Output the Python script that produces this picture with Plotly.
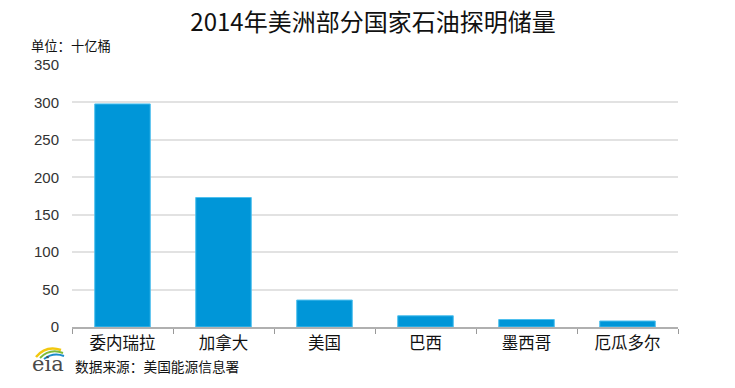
import plotly.graph_objects as go

countries = ["委内瑞拉", "加拿大", "美国", "巴西", "墨西哥", "厄瓜多尔"]
reserves = [298, 173, 36, 15, 10, 8]
y_ticks = [0, 50, 100, 150, 200, 250, 300, 350]

FONT = "Noto Sans CJK SC, Noto Sans, sans-serif"
L, R, T, B = 72, 57, 65, 61
PW, PH = 735 - L - R, 388 - T - B


def px(x):
    return (x - L) / PW


def py(y):
    return (388 - B - y) / PH


fig = go.Figure(go.Bar(
    x=countries, y=reserves,
    marker=dict(color="#0096D8", line=dict(color="#4FC0EE", width=1)),
    width=0.55,
))

fig.update_layout(
    width=735, height=388,
    margin=dict(l=L, r=R, t=T, b=B),
    paper_bgcolor="white", plot_bgcolor="white",
    showlegend=False,
    font=dict(family=FONT, color="#222"),
    title=dict(text="2014年美洲部分国家石油探明储量", x=(373) / 735, xanchor="center",
               y=1 - 23 / 388, yanchor="middle", font=dict(size=24, color="#111", family=FONT)),
    xaxis=dict(
        showline=True, linecolor="#B0B0B0", linewidth=1.5,
        ticks="outside", tickson="boundaries", ticklen=5, tickcolor="#999",
        tickfont=dict(size=16.5, color="#111", family=FONT),
        showgrid=False, automargin=False,
    ),
    yaxis=dict(
        range=[0, 350], tickvals=y_ticks, ticktext=[str(v) for v in y_ticks],
        showgrid=True, gridcolor="#E2E2E2", gridwidth=1.5,
        zeroline=False, showline=False, ticks="", ticklabelstandoff=12,
        tickfont=dict(size=15, color="#333", family="Arial, Liberation Sans, sans-serif"),
        automargin=False,
    ),
    bargap=0.45,
)

fig.add_annotation(text="单位：十亿桶", xref="paper", yref="paper",
                   x=px(29), y=py(45), xanchor="left", yanchor="middle",
                   showarrow=False, font=dict(size=13.3, color="#111", family=FONT))
fig.add_annotation(text="数据来源：美国能源信息署", xref="paper", yref="paper",
                   x=px(73), y=py(366), xanchor="left", yanchor="middle",
                   showarrow=False, font=dict(size=13.7, color="#111", family=FONT))
# eia logo approximation
fig.add_annotation(text="eia", xref="paper", yref="paper",
                   x=px(48), y=py(364), xanchor="center", yanchor="middle",
                   showarrow=False, font=dict(size=21, color="#4a4a4a", family="DejaVu Serif, serif"))
fig.add_shape(type="path", xref="paper", yref="paper",
              path="M %f %f Q %f %f %f %f" % (px(36), py(357), px(46), py(345), px(61), py(350)),
              line=dict(color="#F2C80F", width=2.5))
fig.add_shape(type="path", xref="paper", yref="paper",
              path="M %f %f Q %f %f %f %f" % (px(40), py(358), px(50), py(348), px(63), py(353)),
              line=dict(color="#7DBB3A", width=2))
fig.add_shape(type="path", xref="paper", yref="paper",
              path="M %f %f Q %f %f %f %f" % (px(44), py(359), px(53), py(352), px(64), py(356)),
              line=dict(color="#1C8CCB", width=2))

fig.write_html("out.html", config={"displayModeBar": False},
               post_script="document.body.style.margin='0';document.body.style.overflow='hidden';")
